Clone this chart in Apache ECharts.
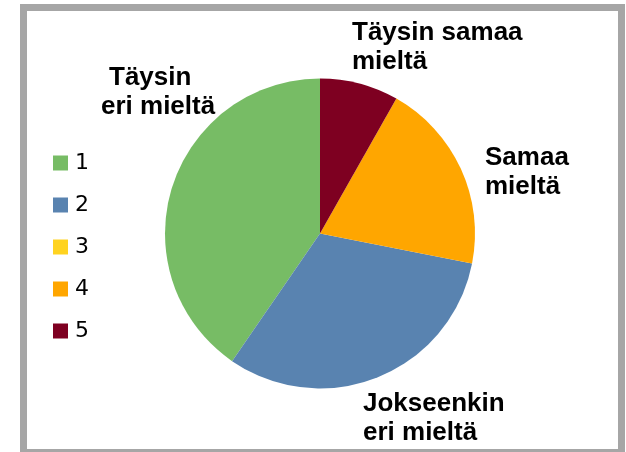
<!DOCTYPE html>
<html>
<head>
<meta charset="utf-8">
<script src="https://cdn.jsdelivr.net/npm/echarts@6/dist/echarts.min.js"></script>
<style>
html,body{margin:0;padding:0;background:#fff;}
#c{width:626px;height:452px;}
</style>
</head>
<body>
<div id="c"></div>
<script>
// Data
const categories = ['1', '2', '3', '4', '5'];
const values = [40.4, 31.5, 0, 19.9, 8.2];
const labelTexts = ['{p|Täysin}\neri mieltä', 'Jokseenkin\neri mieltä', '', 'Samaa\nmieltä', 'Täysin samaa\nmieltä'];
const colors = ['#77bc65', '#5983b0', '#ffd320', '#ffa600', '#7e0021'];

// Layout (label anchor positions: left x, vertical middle y)
const labelPos = [[101, 92], [363, 418], [0, 0], [485, 172], [352, 47.5]];

const chart = echarts.init(document.getElementById('c'), null, {renderer: 'canvas'});
const font = 'Liberation Sans, Arial, sans-serif';
chart.setOption({
  animation: false,
  backgroundColor: '#ffffff',
  color: colors,
  graphic: [{
    type: 'rect',
    z: -10,
    shape: {x: 23.5, y: 7.5, width: 598, height: 445},
    style: {fill: '#ffffff', stroke: '#a6a6a6', lineWidth: 7}
  }],
  legend: {
    orient: 'vertical',
    left: 48,
    top: 147,
    itemWidth: 15,
    itemHeight: 15,
    itemGap: 20,
    icon: 'rect',
    data: categories,
    textStyle: {fontFamily: 'DejaVu Sans', fontSize: 22, color: '#000', padding: [0, 0, 0, 2]}
  },
  series: [{
    type: 'pie',
    center: [320, 233.5],
    radius: 155,
    startAngle: 90,
    clockwise: false,
    avoidLabelOverlap: false,
    minShowLabelAngle: 0.5,
    itemStyle: {borderWidth: 0},
    emphasis: {disabled: true},
    data: categories.map((c, i) => ({name: c, value: values[i]})),
    label: {
      show: true,
      position: 'outside',
      formatter: (p) => labelTexts[p.dataIndex],
      fontFamily: font,
      fontSize: 26,
      fontWeight: 'bold',
      color: '#000',
      lineHeight: 29,
      rich: {
        p: {fontFamily: font, fontSize: 26, fontWeight: 'bold', color: '#000', lineHeight: 29, padding: [0, 0, 0, 8]}
      }
    },
    labelLine: {show: false},
    labelLayout: function (params) {
      const p = labelPos[params.dataIndex];
      return {x: p[0], y: p[1], align: 'left', verticalAlign: 'middle'};
    }
  }]
});
</script>
</body>
</html>
